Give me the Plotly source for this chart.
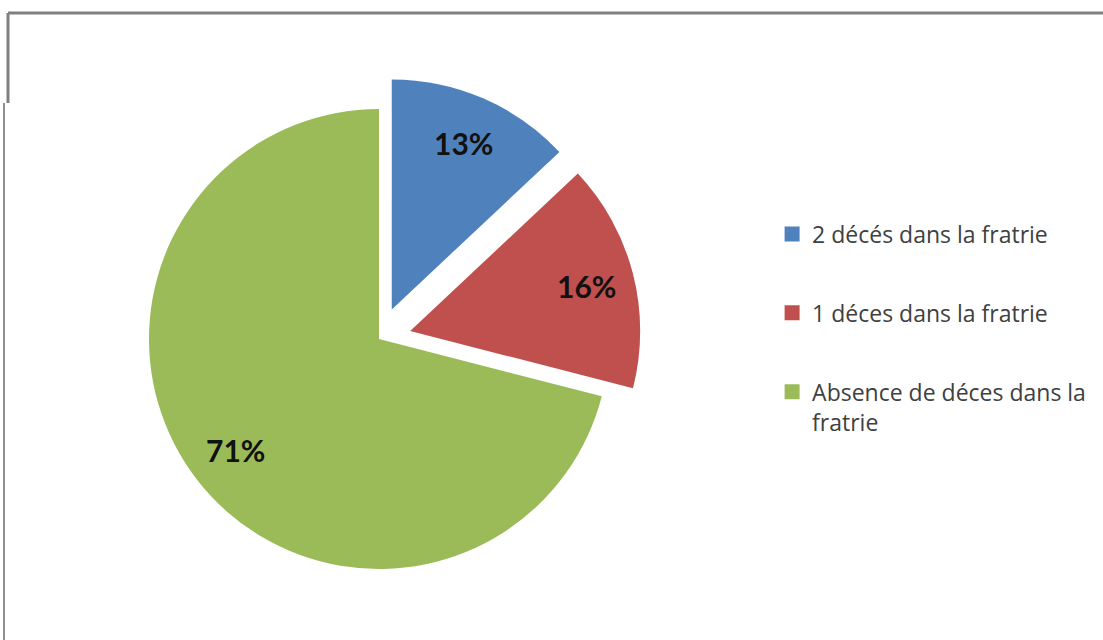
import math
import plotly.graph_objects as go

labels = ["2 décés dans la fratrie", "1 déces dans la fratrie", "Absence de déces dans la fratrie"]
legend_labels = ["2 décés dans la fratrie", "1 déces dans la fratrie", "Absence de déces dans la<br>fratrie"]
values = [13, 16, 71]
colors = ["#4f81bd", "#c0504d", "#9bbb59"]
pulls = [0.14, 0.14, 0]

W, H = 1103, 640
dom_x = [0.0897, 0.5975]
dom_y = [0.0606, 0.8800]

fig = go.Figure()
fig.add_trace(go.Pie(
    labels=labels, values=values, sort=False, direction="clockwise", rotation=0,
    pull=pulls, marker=dict(colors=colors, line=dict(width=0)),
    textinfo="none", showlegend=False,
    domain=dict(x=dom_x, y=dom_y),
))
for lab, col in zip(legend_labels, colors):
    fig.add_trace(go.Scatter(
        x=[None], y=[None], mode="markers", name=lab, legendgroup=lab,
        marker=dict(symbol="square", size=15, color=col),
    ))

# data labels placed along each slice bisector (as Excel "best fit")
cx = W * (dom_x[0] + dom_x[1]) / 2
cy = H * (1 - (dom_y[0] + dom_y[1]) / 2)
r = min(W * (dom_x[1] - dom_x[0]), H * (dom_y[1] - dom_y[0])) / (2 + 2 * max(pulls))
total = sum(values)
annotations = []
cum = 0
for v, p in zip(values, pulls):
    mid = 2 * math.pi * (cum + v / 2) / total
    cum += v
    d = (p + 0.79) * r
    px = cx + d * math.sin(mid)
    py = cy - d * math.cos(mid)
    annotations.append(dict(
        x=px / W, y=1 - py / H, xref="paper", yref="paper", showarrow=False,
        text=f"{round(100 * v / total)}%",
        font=dict(family="Lato", size=30, color="#111111", weight="bold"),
        xanchor="center", yanchor="middle",
    ))

fig.update_layout(
    width=W, height=H, margin=dict(l=0, r=0, t=0, b=0),
    paper_bgcolor="white", plot_bgcolor="white",
    xaxis=dict(visible=False), yaxis=dict(visible=False),
    annotations=annotations,
    legend=dict(x=0.700, y=0.668, xanchor="left", yanchor="top",
                font=dict(family="Open Sans", size=23, color="#404040"),
                tracegroupgap=46, valign="top", bgcolor="rgba(0,0,0,0)"),
    shapes=[
        dict(type="line", xref="paper", yref="paper", x0=8/W, x1=1.0, y0=1-13/H, y1=1-13/H,
             line=dict(color="#808080", width=3)),
        dict(type="line", xref="paper", yref="paper", x0=8/W, x1=8/W, y0=1-13/H, y1=1-103/H,
             line=dict(color="#808080", width=3)),
        dict(type="line", xref="paper", yref="paper", x0=4/W, x1=4/W, y0=1-103/H, y1=0,
             line=dict(color="#909090", width=2)),
    ],
)
fig.write_html("out.html")
